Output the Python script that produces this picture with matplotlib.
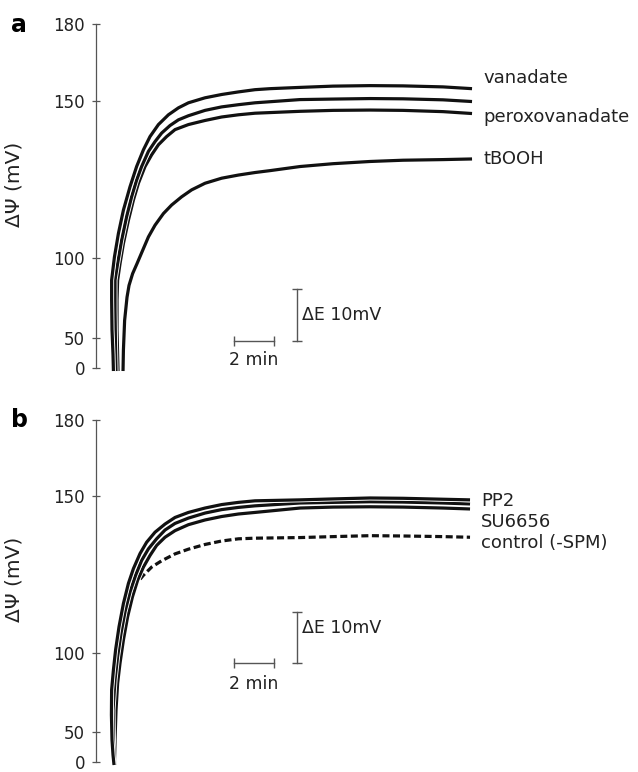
import numpy as np
import matplotlib
matplotlib.use('Agg')
import matplotlib.pyplot as plt
import matplotlib.patheffects as pe

# ----------------- data (time in min, potential in mV) -----------------
# panel a
t_vanadate = [0.02, 0, -0.05, -0.07, -0.07, 0.07, 0.27, 0.52, 0.85, 1.18, 1.52, 1.85, 2.27, 2.77, 3.27,
              3.77, 4.6, 5.43, 6.25, 7.1, 7.85, 9.35, 11, 12.85, 14.5, 16.5, 17.95]
y_vanadate = [-5, 21.7, 55, 73.75, 86.3, 100.4, 107.9, 115.3, 122.7, 129.1, 134.4, 138.6, 142.4, 145.5, 147.7,
              149.3, 151.1, 152.4, 153.4, 154.3, 154.7, 155.2, 155.7, 155.9, 155.8, 155.4, 154.7]
t_a2 = [0.15, 0.12, 0.1, 0.1, 0.23, 0.43, 0.68, 0.93, 1.18, 1.43, 1.77, 2.1, 2.43, 2.85, 3.27, 3.77,
        4.6, 5.43, 6.27, 7.1, 9.35, 11, 12.85, 14.5, 16.5, 17.95]
y_a2 = [-5, 46.7, 67.5, 86.3, 96.7, 105.7, 113.2, 119.5, 124.8, 129.1, 133.9, 137.0, 139.7, 142.1, 143.9, 145.2,
        146.9, 148.0, 148.7, 149.3, 150.4, 150.6, 150.8, 150.7, 150.3, 149.7]
t_perox = [0.25, 0.2, 0.2, 0.23, 0.35, 0.52, 0.77, 1.02, 1.27, 1.6, 1.93, 2.27, 2.68, 3.1, 3.77, 4.6,
           5.43, 6.27, 7.1, 9.35, 11, 12.85, 14.5, 16.5, 17.95]
y_perox = [-5, 55, 73.75, 86.3, 96.7, 104.7, 112.1, 118.5, 123.8, 129.1, 132.8, 136, 138.6, 140.8, 142.4, 143.7,
           144.8, 145.5, 146.0, 146.6, 146.9, 147.0, 146.9, 146.5, 145.9]
t_tbooh = [0.5, 0.52, 0.58, 0.7, 0.8, 0.98, 1.2, 1.48, 1.77, 2.1, 2.52, 2.93, 3.43, 3.93, 4.6, 5.43,
           6.27, 7.1, 7.85, 9.35, 11, 12.85, 14.5, 16.5, 17.95]
y_tbooh = [-5, 30, 61, 75.6, 83, 90.4, 96.7, 102.5, 106.8, 110.5, 114.2, 116.9, 119.5, 121.7, 123.8, 125.4,
           126.4, 127.2, 127.8, 129.1, 130.0, 130.7, 131.1, 131.3, 131.5]

# panel b
t_pp2 = [0.05, 0, -0.05, -0.08, -0.07, 0.02, 0.13, 0.3, 0.52, 0.77, 1.02, 1.35, 1.68, 2.1, 2.6, 3.1,
         3.77, 4.6, 5.43, 6.27, 7.1, 9.35, 11, 12.85, 14.5, 16.5, 17.85]
y_pp2 = [-5, 11.7, 36.7, 60.8, 76.6, 89.2, 101, 108.3, 115.7, 122.1, 126.8, 131.6, 135.2, 138.4, 141.0, 143.1,
         144.7, 146.1, 147.2, 147.9, 148.4, 148.7, 149.0, 149.3, 149.2, 148.9, 148.7]
t_b2 = [0.08, 0.02, 0, 0.1, 0.23, 0.4, 0.6, 0.85, 1.13, 1.43, 1.77, 2.18, 2.6, 3.1, 3.77, 4.6,
        5.43, 6.27, 7.1, 9.35, 11, 12.85, 14.5, 16.5, 17.85]
y_b2 = [-5, 36.7, 63.9, 82.9, 97.7, 106.2, 113.1, 119.4, 124.7, 129.4, 133.1, 136.3, 139.1, 141.2, 142.9, 144.5,
        145.6, 146.3, 146.8, 147.7, 147.9, 148.1, 148.0, 147.7, 147.4]
t_su = [0.1, 0.1, 0.15, 0.23, 0.35, 0.52, 0.73, 0.97, 1.23, 1.52, 1.85, 2.18, 2.6, 3.1, 3.77, 4.6,
        5.43, 6.27, 7.1, 9.35, 11, 12.85, 14.5, 16.5, 17.85]
y_su = [-5, 36.7, 63.9, 80.8, 93.5, 104.1, 111.5, 117.8, 123.1, 127.3, 131.0, 134.2, 136.8, 138.9, 140.8, 142.3,
        143.4, 144.2, 144.7, 146.1, 146.4, 146.5, 146.4, 146.1, 145.8]
t_ctrl = [0.1, 0.1, 0.12, 0.2, 0.3, 0.45, 0.7, 0.93, 1.18, 1.52, 1.93, 2.43, 3.1, 3.77, 4.6, 5.43,
          6.27, 7.1, 9.35, 11, 12.85, 14.5, 16.5, 17.85]
y_ctrl = [-5, 28.3, 57.6, 76.6, 92.4, 104.1, 110.4, 119.4, 122.1, 124.7, 127.3, 129.3, 131.5, 133.0, 134.5, 135.6,
          136.3, 136.5, 136.7, 137.0, 137.3, 137.2, 137.0, 136.8]

labels_a = ["vanadate", "peroxovanadate", "tBOOH"]
label_y_a = [159, 144.9, 131.4]
labels_b = ["PP2", "SU6656", "control (-SPM)"]
label_y_b = [148.4, 141.8, 135.1]

yticks = [0, 50, 100, 150, 180]

# non linear potential axis (calibration curve)
mv_knots = [-100, 0, 50, 100, 150, 180, 300]
pos_knots = [-60, 0, 30, 109.5, 267, 343, 649]


def fwd(v):
    return np.interp(v, mv_knots, pos_knots)


def inv(p):
    return np.interp(p, pos_knots, mv_knots)


gray = '#555555'
stroke = [pe.withStroke(linewidth=3.6, foreground='white')]

fig = plt.figure(figsize=(6.38, 7.72), dpi=100)
ax_a = fig.add_axes([0.1505, 0.5233, 0.6019, 0.445])
ax_b = fig.add_axes([0.1505, 0.01295, 0.6019, 0.443])


def setup(ax):
    ax.set_yscale('function', functions=(fwd, inv))
    ax.set_ylim(0, 180)
    ax.set_xlim(-0.85, 18.35)
    ax.set_yticks(yticks)
    ax.set_yticklabels([str(v) for v in yticks])
    for s in ['top', 'right', 'bottom']:
        ax.spines[s].set_visible(False)
    ax.spines['left'].set_color(gray)
    ax.spines['left'].set_linewidth(0.9)
    ax.xaxis.set_visible(False)
    ax.tick_params(axis='y', direction='inout', length=6, width=0.9, color=gray,
                   labelsize=12, labelcolor='#222222', pad=5)
    ax.set_ylabel(u"ΔΨ (mV)", fontsize=14.5, color='#222222')
    ax.yaxis.set_label_coords(-0.19, 0.535)


def curve(ax, t, y, dashed=False):
    if dashed:
        ax.plot(t, y, color='#111111', lw=2.3, dashes=(2.2, 1.1), clip_on=False,
                dash_capstyle='butt', dash_joinstyle='round')
    else:
        ax.plot(t, y, color='#111111', lw=2.3, clip_on=False, path_effects=stroke,
                solid_joinstyle='round', solid_capstyle='butt')


def scale_bars(ax, y_h, y_v0, y_v1, y_txt_h, y_txt_v):
    ax.plot([6.05, 8.05], [y_h, y_h], color=gray, lw=1, marker='|', ms=7, mew=1, clip_on=False)
    ax.plot([9.2, 9.2], [y_v0, y_v1], color=gray, lw=1, marker='_', ms=7, mew=1, clip_on=False)
    ax.text(7.05, y_txt_h, "2 min", ha='center', va='center', fontsize=12.5, color='#222222')
    ax.text(9.45, y_txt_v, u"ΔE 10mV", ha='left', va='center', fontsize=12.5, color='#222222')


# ----------------- panel a -----------------
setup(ax_a)
curve(ax_a, t_tbooh, y_tbooh)
curve(ax_a, t_perox, y_perox)
curve(ax_a, t_a2, y_a2)
curve(ax_a, t_vanadate, y_vanadate)
for lab, yy in zip(labels_a, label_y_a):
    ax_a.text(18.5, yy, lab, ha='left', va='center', fontsize=13, color='#222222', clip_on=False)
scale_bars(ax_a, 45, 45, 80.6, 13.3, 64.4)
fig.text(0.018, 0.968, "a", fontsize=17, fontweight='bold', va='center', ha='left')

# ----------------- panel b -----------------
setup(ax_b)
curve(ax_b, t_ctrl, y_ctrl, dashed=True)
curve(ax_b, t_su, y_su)
curve(ax_b, t_b2, y_b2)
curve(ax_b, t_pp2, y_pp2)
for lab, yy in zip(labels_b, label_y_b):
    ax_b.text(18.4, yy, lab, ha='left', va='center', fontsize=13, color='#222222', clip_on=False)
scale_bars(ax_b, 93.8, 93.8, 112.9, 80.4, 107.9)
fig.text(0.018, 0.456, "b", fontsize=17, fontweight='bold', va='center', ha='left')

plt.savefig('out.png', dpi=100)
